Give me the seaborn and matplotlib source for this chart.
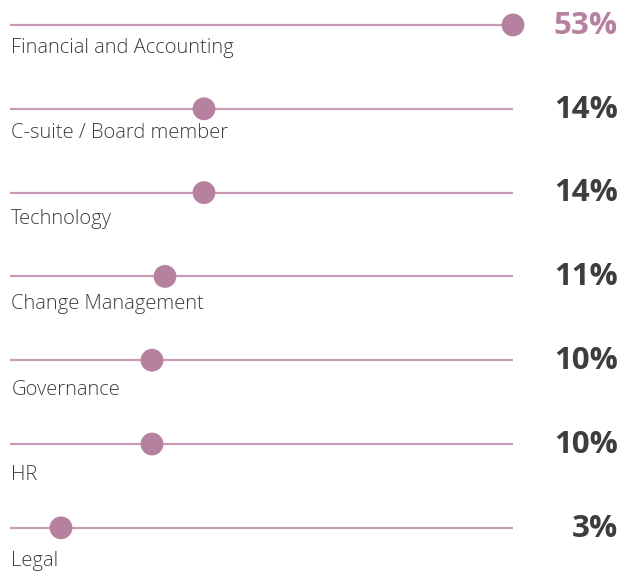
"""
Share of respondents by function - lollipop style chart
"""

import numpy as np
import pandas as pd
import matplotlib
matplotlib.use('Agg')
import matplotlib.pyplot as plt
import seaborn as sns

categories = ['Financial and Accounting', 'C-suite / Board member', 'Technology',
              'Change Management', 'Governance', 'HR', 'Legal']
values = [53, 14, 14, 11, 10, 10, 3]
pct_labels = ['53%', '14%', '14%', '11%', '10%', '10%', '3%']

# track runs from LINE_START to LINE_END, bigger values are pinned at the end
LINE_START = -0.92
LINE_END = 37.77

DOT_COLOR = '#b5819f'
LINE_COLOR = '#c99bb6'
TEXT_COLOR = '#3d3d3d'

sns.set_theme(style='white')
plt.rcParams['font.family'] = ['Open Sans', 'DejaVu Sans']

df = pd.DataFrame({'category': categories, 'value': values, 'label': pct_labels})
df['row'] = np.arange(len(df))
df['pos'] = np.minimum(df['value'], LINE_END)

fig = plt.figure(figsize=(6.21, 5.71), dpi=100)
ax = fig.add_axes([0, 0, 1, 1])

ax.hlines(df['row'], LINE_START, LINE_END, color=LINE_COLOR, linewidth=1.6, zorder=1)
sns.scatterplot(data=df, x='pos', y='row', ax=ax, s=270, color=DOT_COLOR,
                edgecolor='none', legend=False, zorder=3)

top = df['value'].idxmax()
for i, r in df.iterrows():
    # the category names drift down slightly faster than the tracks
    ax.text(LINE_START + 0.1, r['row'] * 1.02 + 0.27, r['category'], ha='left', va='center',
            fontsize=14.5, fontweight='light', color=TEXT_COLOR)
    ax.text(45.85, r['row'] + 0.01, r['label'], ha='right', va='center',
            fontsize=22.5, fontweight='bold',
            color=DOT_COLOR if i == top else TEXT_COLOR)

ax.set_xlim(-1.692, 46.08)
ax.set_ylim(6.515, -0.298)
ax.axis('off')

plt.savefig('out.png', dpi=100)
